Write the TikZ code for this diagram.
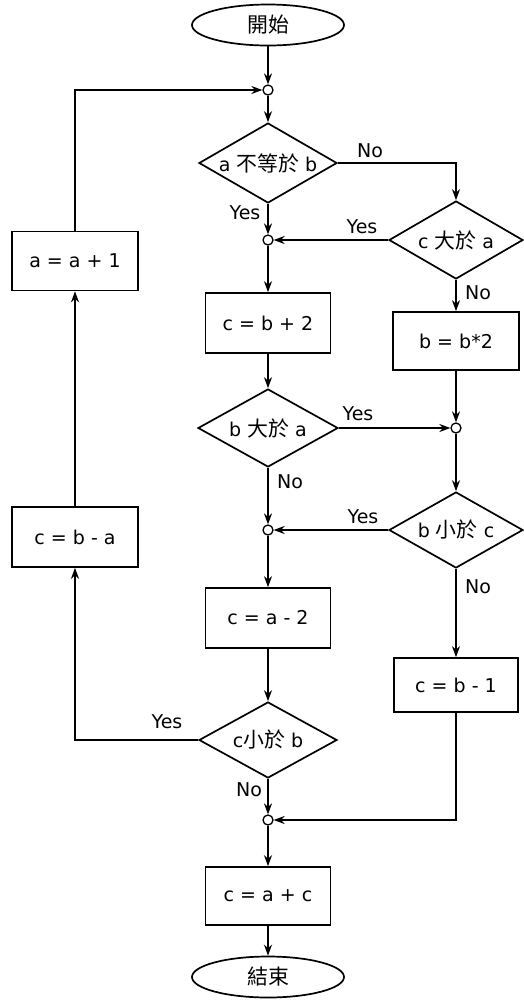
\documentclass[tikz,border=0pt]{standalone}
\usepackage{fontspec}
\setmainfont{DejaVu Sans}
\newfontfamily\cjk[Scale=1.1]{Noto Sans CJK TC}
\usetikzlibrary{shapes.geometric,arrows.meta}

\begin{document}
\begin{tikzpicture}[x=1pt,y=-1pt,line width=1.7pt,
  every node/.style={font=\fontsize{19}{22}\selectfont},
  proc/.style={draw,rectangle,minimum width=125pt,minimum height=58pt,inner sep=0pt},
  decide/.style={draw,diamond,aspect=1.75,inner sep=0pt,minimum width=138pt,minimum height=80pt},
  term/.style={draw,ellipse,minimum width=152pt,minimum height=41pt,inner sep=0pt},
  junc/.style={draw,circle,fill=white,minimum size=10pt,inner sep=0pt,line width=1.3pt},
  flow/.style={-{Stealth[length=11pt,width=8pt]}},
  lbl/.style={inner sep=0pt}]
\useasboundingbox (0,0) rectangle (523,1005);

% terminals
\node[term] (start) at (268,25) {\cjk 開始};
\node[term] (stop) at (268,977) {\cjk 結束};

% junction points
\node[junc] (j1) at (268,90) {};
\node[junc] (j2) at (268,240) {};
\node[junc] (j3) at (456,428) {};
\node[junc] (j4) at (268,530) {};
\node[junc] (j5) at (268,820) {};

% decisions
\node[decide] (d1) at (268,163) {a {\cjk 不等於} b};
\node[decide,minimum width=134pt,minimum height=78pt] (d2) at (456,240) {c {\cjk 大於} a};
\node[decide,minimum width=140pt,minimum height=78pt] (d3) at (268,428) {b {\cjk 大於} a};
\node[decide,minimum width=134pt,minimum height=76pt] (d4) at (456,530) {b {\cjk 小於} c};
\node[decide,minimum height=76pt] (d5) at (268,740) {c{\cjk 小於} b};

% processes
\node[proc,minimum height=60pt] (b1) at (268,323) {c = b + 2};
\node[proc,minimum width=126pt] (b2) at (456,341) {b = b*2};
\node[proc,minimum height=60pt] (b3) at (268,618) {c = a - 2};
\node[proc,minimum width=124pt,minimum height=54pt] (b4) at (456,685) {c = b - 1};
\node[proc,minimum width=126pt,minimum height=60pt] (b5) at (75,537) {c = b - a};
\node[proc,minimum width=126pt,minimum height=59pt] (b6) at (75,261) {a = a + 1};
\node[proc] (b7) at (268,896) {c = a + c};

% connectors
\draw[flow] (start) -- (j1);
\draw[flow] (j1) -- (d1.north);
\draw[flow] (d1.east) -| (d2.north);
\draw[flow] (d1.south) -- (j2);
\draw[flow] (d2.west) -- (j2);
\draw[flow] (j2) -- (b1.north);
\draw[flow] (d2.south) -- (b2.north);
\draw[flow] (b1.south) -- (d3.north);
\draw[flow] (d3.east) -- (j3);
\draw[flow] (b2.south) -- (j3);
\draw[flow] (j3) -- (d4.north);
\draw[flow] (d3.south) -- (j4);
\draw[flow] (d4.west) -- (j4);
\draw[flow] (j4) -- (b3.north);
\draw[flow] (d4.south) -- (b4.north);
\draw[flow] (b3.south) -- (d5.north);
\draw[flow] (d5.west) -| (b5.south);
\draw[flow] (b5.north) -- (b6.south);
\draw[flow] (b6.north) |- (j1.west);
\draw[flow] (d5.south) -- (j5);
\draw[flow] (b4.south) |- (j5.east);
\draw[flow] (j5) -- (b7.north);
\draw[flow] (b7.south) -- (stop.north);

% branch labels
\node[lbl] (l1) at (370,151) {No};
\node[lbl] (l2) at (245,213) {Yes};
\node[lbl] (l3) at (362,227) {Yes};
\node[lbl] (l4) at (478,293) {No};
\node[lbl] (l5) at (358,414) {Yes};
\node[lbl] (l6) at (290,482) {No};
\node[lbl] (l7) at (363,517) {Yes};
\node[lbl] (l8) at (478,587) {No};
\node[lbl] (l9) at (167,722) {Yes};
\node[lbl] (l10) at (249,790) {No};
\end{tikzpicture}
\end{document}
